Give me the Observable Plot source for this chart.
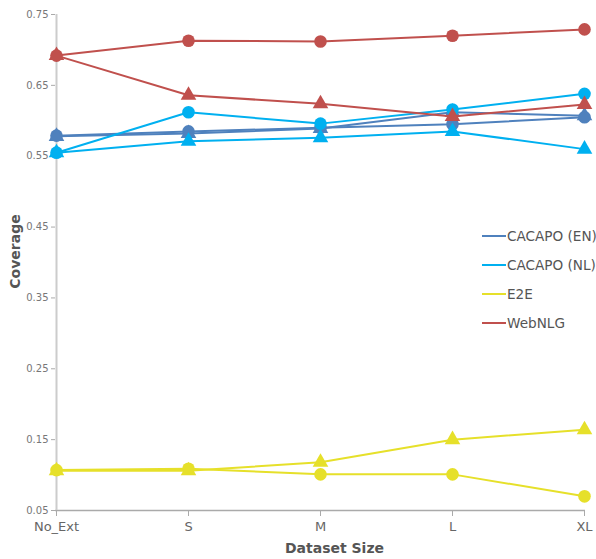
<!DOCTYPE html>
<html>
<head>
<meta charset="utf-8">
<script src="https://cdn.jsdelivr.net/npm/d3@7"></script>
<script src="https://cdn.jsdelivr.net/npm/@observablehq/plot@0.6"></script>
<style>
  html, body { margin: 0; padding: 0; background: #fff; overflow: hidden; }
  #wrap { position: relative; width: 596px; height: 559px; font-family: "DejaVu Sans", sans-serif; overflow: hidden; }
  #legend { position: absolute; left: 482px; top: 221px; font-size: 13.6px; color: #555; white-space: nowrap; }
  .row { display: flex; align-items: center; height: 29px; }
  .sw { width: 24px; height: 2px; margin-right: 1px; }
</style>
</head>
<body>
<div id="wrap"><div id="legend"></div></div>
<script>
const sizes = ["No_Ext", "S", "M", "L", "XL"];
const seriesNames = ["CACAPO (EN)", "CACAPO (NL)", "E2E", "WebNLG"];
const seriesColors = ["#4f81bd", "#00b0f0", "#e6e02a", "#c0504d"];
const yTicks = [0.05, 0.15, 0.25, 0.35, 0.45, 0.55, 0.65, 0.75];
const xTitle = ["Dataset Size"];
const yTitle = ["Coverage"];

// circle-marker series
const enCircle  = [0.579, 0.585, 0.590, 0.595, 0.605];
const nlCircle  = [0.555, 0.612, 0.596, 0.616, 0.638];
const e2eCircle = [0.107, 0.109, 0.101, 0.101, 0.070];
const webCircle = [0.692, 0.713, 0.712, 0.720, 0.729];
// triangle-marker series
const enTri  = [0.578, 0.582, 0.589, 0.612, 0.607];
const nlTri  = [0.555, 0.571, 0.576, 0.585, 0.560];
const e2eTri = [0.106, 0.106, 0.118, 0.150, 0.164];
const webTri = [0.692, 0.636, 0.624, 0.606, 0.623];

const groups = [
  {name: seriesNames[0], color: seriesColors[0], circle: enCircle, tri: enTri},
  {name: seriesNames[1], color: seriesColors[1], circle: nlCircle, tri: nlTri},
  {name: seriesNames[2], color: seriesColors[2], circle: e2eCircle, tri: e2eTri},
  {name: seriesNames[3], color: seriesColors[3], circle: webCircle, tri: webTri}
];

const rows = [];
groups.forEach(g => {
  ["circle", "tri"].forEach(kind => {
    g[kind].forEach((v, i) => rows.push({series: g.name, kind, size: sizes[i], value: v}));
  });
});

const marks = [
  Plot.ruleY([yTicks[0]], {stroke: "#aaa", strokeWidth: 1.5}),
  Plot.ruleX([sizes[0]], {y1: yTicks[0], y2: yTicks[yTicks.length - 1], stroke: "#ccc", strokeWidth: 2}),
  Plot.axisY({ticks: yTicks, tickFormat: d => d.toFixed(2), tickSize: 4, tickPadding: 3, fontSize: 10, color: "#777", stroke: "#aaa", label: null}),
  Plot.axisX({tickSize: 6, tickPadding: 5, fontSize: 13, color: "#666", stroke: "#aaa", label: null}),
  Plot.text(yTitle, {frameAnchor: "left", textAnchor: "middle", lineAnchor: "middle", dx: -40, dy: -11, rotate: -90, fontWeight: "bold", fontSize: 14, fill: "#555"}),
  Plot.text(xTitle, {frameAnchor: "bottom", textAnchor: "middle", dx: 14, dy: 42, fontWeight: "bold", fontSize: 14, fill: "#555"})
];
groups.forEach(g => {
  ["circle", "tri"].forEach(kind => {
    const d = rows.filter(r => r.series === g.name && r.kind === kind);
    marks.push(Plot.line(d, {x: "size", y: "value", stroke: g.color, strokeWidth: 2}));
  });
  ["circle", "tri"].forEach(kind => {
    const d = rows.filter(r => r.series === g.name && r.kind === kind);
    marks.push(Plot.dot(d, {x: "size", y: "value", fill: g.color, stroke: "none", symbol: kind === "circle" ? "circle" : "triangle", r: kind === "circle" ? 6.3 : 5.8}));
  });
});

const chart = Plot.plot({
  width: 596,
  height: 559,
  marginLeft: 55,
  marginRight: 11,
  marginTop: 14,
  marginBottom: 49,
  style: {fontFamily: "DejaVu Sans, sans-serif", background: "#fff"},
  x: {type: "point", domain: sizes, padding: 0},
  y: {domain: [yTicks[0], yTicks[yTicks.length - 1]]},
  marks
});
const wrap = document.getElementById("wrap");
wrap.insertBefore(chart, wrap.firstChild);

const legend = document.getElementById("legend");
groups.forEach(g => {
  const row = document.createElement("div");
  row.className = "row";
  const sw = document.createElement("span");
  sw.className = "sw";
  sw.style.background = g.color;
  const t = document.createElement("span");
  t.textContent = g.name;
  row.appendChild(sw);
  row.appendChild(t);
  legend.appendChild(row);
});
</script>
</body>
</html>
